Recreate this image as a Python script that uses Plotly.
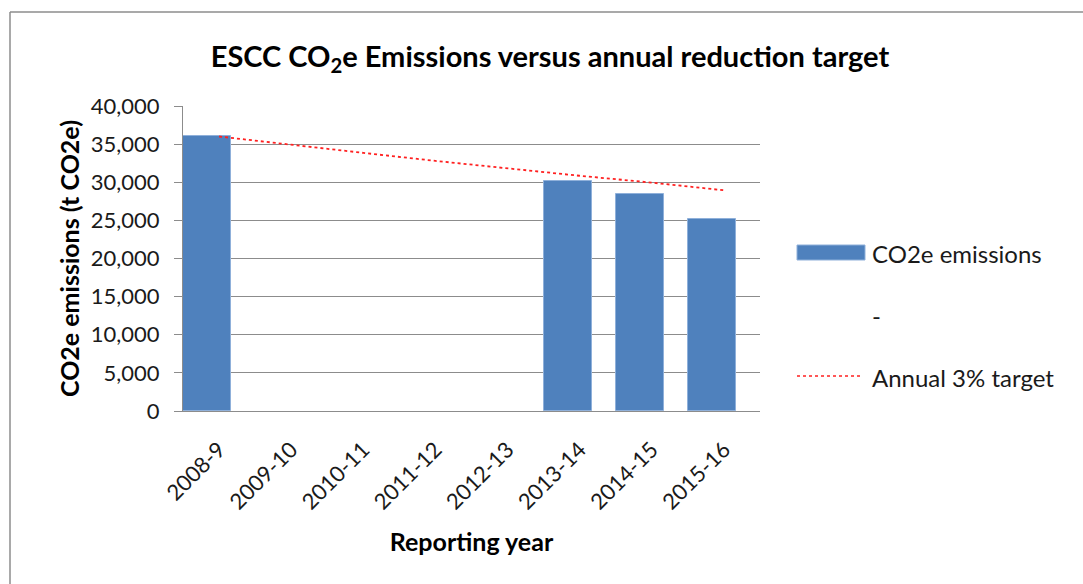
import plotly.graph_objects as go

categories = ["2008-9", "2009-10", "2010-11", "2011-12", "2012-13", "2013-14", "2014-15", "2015-16"]
emissions = [36100, None, None, None, None, 30170, 28480, 25200]
target = [36000, 34900, 33850, 32800, 31800, 30850, 29950, 28950]
y_ticks = [0, 5000, 10000, 15000, 20000, 25000, 30000, 35000, 40000]
y_tick_labels = ["0", "5,000", "10,000", "15,000", "20,000", "25,000", "30,000", "35,000", "40,000"]

FONT = "Lato, 'Open Sans', sans-serif"
W, H = 1083, 584
L, R, T, B = 183, 760, 106, 411  # plot area in pixels


def px(x):
    return (x - L) / (R - L)


def py(y):
    return (B - y) / (B - T)


fig = go.Figure()
fig.add_trace(go.Bar(
    x=categories, y=emissions, name="CO2e emissions",
    marker=dict(color="#4F81BD", line=dict(color="#8FB0DA", width=1)),
    width=0.665, offset=-0.5, showlegend=False,
))
fig.add_trace(go.Scatter(
    x=categories, y=target, name="Annual 3% target", mode="lines",
    line=dict(color="#FF2020", width=1.8, dash="dot"), showlegend=False,
))

BORDER = dict(color="#8C8C8C", width=1.5)
shapes = [
    # outer chart border (left and top edges are the visible ones)
    dict(type="line", xref="paper", yref="paper",
         x0=px(10), x1=px(10), y0=py(640), y1=py(12), line=BORDER, layer="below"),
    dict(type="line", xref="paper", yref="paper",
         x0=px(10), x1=px(1140), y0=py(12), y1=py(12), line=BORDER, layer="below"),
    # legend symbols
    dict(type="rect", xref="paper", yref="paper",
         x0=px(797), x1=px(865), y0=py(260), y1=py(245),
         line=dict(color="#8FB0DA", width=1), fillcolor="#4F81BD"),
    dict(type="line", xref="paper", yref="paper",
         x0=px(797), x1=px(863), y0=py(376), y1=py(376),
         line=dict(color="#FF2020", width=1.5, dash="dot")),
]

LEG_FONT = dict(family=FONT, size=24, color="#1a1a1a")
annotations = [
    dict(text="CO2e emissions", x=px(870), y=py(253), xref="paper", yref="paper",
         xanchor="left", yanchor="middle", showarrow=False, font=LEG_FONT),
    dict(text="-", x=px(870), y=py(315), xref="paper", yref="paper",
         xanchor="left", yanchor="middle", showarrow=False, font=LEG_FONT),
    dict(text="Annual 3% target", x=px(870), y=py(377), xref="paper", yref="paper",
         xanchor="left", yanchor="middle", showarrow=False, font=LEG_FONT),
]

fig.update_layout(
    width=W, height=H,
    margin=dict(l=L, r=W - R, t=T, b=H - B, autoexpand=False),
    paper_bgcolor="white", plot_bgcolor="white",
    font=dict(family=FONT, color="#1a1a1a"),
    title=dict(text="<b>ESCC CO<sub>2</sub>e Emissions versus annual reduction target</b>",
               x=550 / W, xanchor="center", y=1 - 57 / H, yanchor="middle",
               font=dict(family=FONT, size=29, color="#000000")),
    shapes=shapes, annotations=annotations,
    showlegend=False, bargap=0,
)
fig.update_yaxes(
    range=[0, 40000], tickvals=y_ticks, ticktext=y_tick_labels,
    showgrid=True, gridcolor="#8C8C8C", gridwidth=1,
    showline=True, linecolor="#8C8C8C", linewidth=1,
    ticks="outside", ticklen=8, tickcolor="#8C8C8C",
    ticklabelstandoff=10,
    tickfont=dict(family=FONT, size=22, color="#1a1a1a"),
    zeroline=False,
    title=dict(text="<b>CO2e emissions (t CO2e)</b>", standoff=4,
               font=dict(family=FONT, size=25, color="#000000")),
)
fig.update_xaxes(
    type="category", categoryarray=categories,
    showline=True, linecolor="#8C8C8C", linewidth=1,
    ticks="", tickangle=-45, ticklabelstandoff=16,
    tickfont=dict(family=FONT, size=22, color="#1a1a1a"),
    title=dict(text="<b>Reporting year</b>", standoff=19,
               font=dict(family=FONT, size=25, color="#000000")),
)

fig.write_html("out.html")
